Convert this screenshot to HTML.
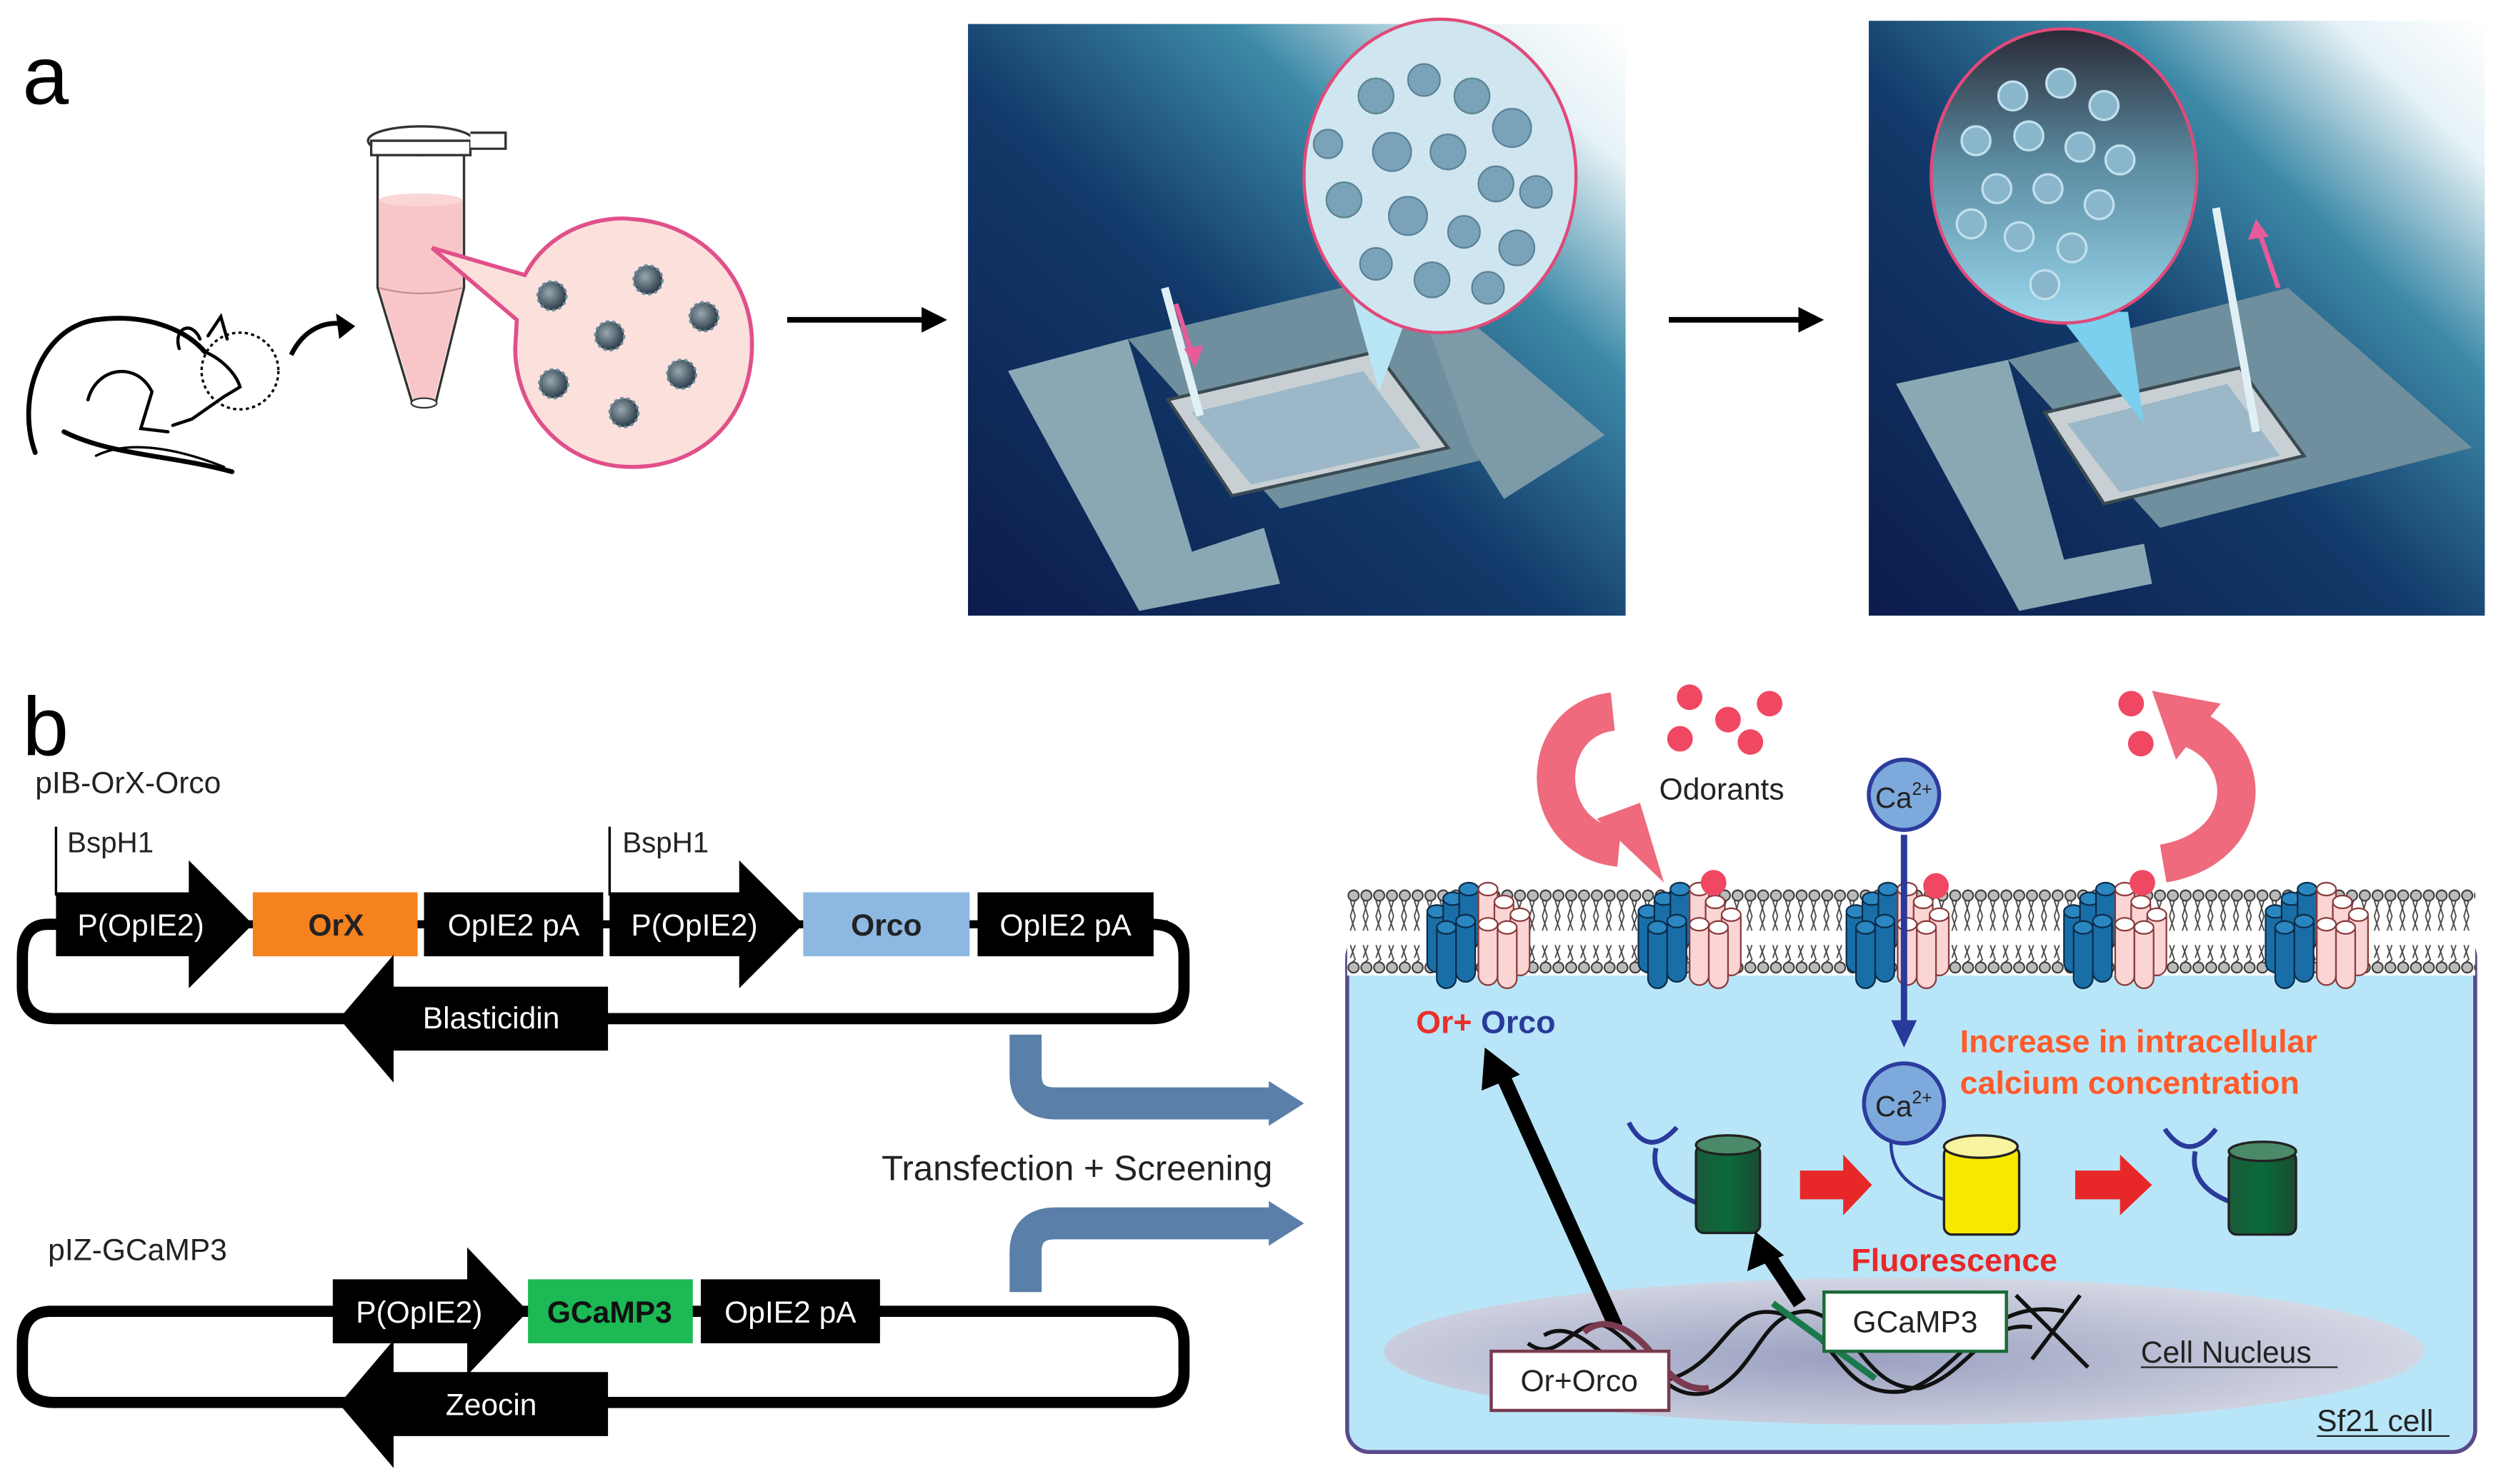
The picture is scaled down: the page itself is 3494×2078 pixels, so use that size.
<!DOCTYPE html>
<html><head><meta charset="utf-8"><style>
html,body{margin:0;padding:0;background:#fff}
svg{display:block}
text{font-family:"Liberation Sans",sans-serif}
</style></head><body>
<svg width="3494" height="2078" viewBox="0 0 1560 928" preserveAspectRatio="none" xmlns="http://www.w3.org/2000/svg">
<defs>
<linearGradient id="bg" x1="0" y1="1" x2="1" y2="0">
<stop offset="0" stop-color="#0c1c4c"/><stop offset="0.45" stop-color="#123a6a"/><stop offset="0.7" stop-color="#3d8aa8"/><stop offset="0.88" stop-color="#e6f2f6"/><stop offset="1" stop-color="#ffffff"/></linearGradient>
<radialGradient id="cell" cx="0.4" cy="0.4" r="0.6"><stop offset="0" stop-color="#9aa8b0"/><stop offset="1" stop-color="#2c3e4a"/></radialGradient>
<radialGradient id="nuc" cx="0.45" cy="0.55" r="0.6"><stop offset="0" stop-color="#9aa0c0"/><stop offset="1" stop-color="#d8dbe6"/></radialGradient>
<linearGradient id="bub2" x1="0" y1="0" x2="0" y2="1"><stop offset="0" stop-color="#2a2a36"/><stop offset="0.45" stop-color="#5a8aa0"/><stop offset="1" stop-color="#9ad8ee"/></linearGradient>
<linearGradient id="grn" x1="0" y1="0" x2="1" y2="0"><stop offset="0" stop-color="#1a5a3a"/><stop offset="0.5" stop-color="#0a6a3a"/><stop offset="1" stop-color="#1a4a30"/></linearGradient>
<pattern id="lip" x="842" y="555" width="8" height="55" patternUnits="userSpaceOnUse">
<path d="M2,8 L5,18 L2,27 M5,8 L2,18 L5,27 M2,36 L5,45 L2,48 M5,36 L2,44" stroke="#444" stroke-width="0.8" fill="none"/>
<circle cx="4" cy="5" r="3.3" fill="#bbb" stroke="#333" stroke-width="0.9"/>
<circle cx="4" cy="50" r="3.3" fill="#bbb" stroke="#333" stroke-width="0.9"/>
</pattern>
<g id="cb"><rect x="-6" y="0" width="12" height="42" rx="6" fill="#1a6ea8" stroke="#0c2c48" stroke-width="1"/><ellipse cx="0" cy="4" rx="6" ry="4" fill="#2a86c0" stroke="#0c2c48" stroke-width="1"/></g>
<g id="cp"><rect x="-6" y="0" width="12" height="42" rx="6" fill="#fbd4d4" stroke="#8a3a3a" stroke-width="1"/><ellipse cx="0" cy="4" rx="6" ry="4" fill="#fff" stroke="#8a3a3a" stroke-width="1"/></g>
<g id="clu">
<use href="#cb" x="-26" y="10"/><use href="#cb" x="-16" y="2"/><use href="#cb" x="-6" y="-4"/><use href="#cb" x="-20" y="20"/><use href="#cb" x="-8" y="16"/>
<use href="#cp" x="6" y="-4"/><use href="#cp" x="16" y="4"/><use href="#cp" x="26" y="12"/><use href="#cp" x="6" y="18"/><use href="#cp" x="18" y="20"/>
</g>
<g id="cl"><circle r="9" fill="url(#cell)"/><circle r="9" fill="none" stroke="#6a8a9a" stroke-width="1.5" stroke-dasharray="2 2"/></g>
</defs>

<!-- panel a -->
<text x="14" y="65" font-size="52">a</text>
<g fill="none" stroke="#000" stroke-width="3" stroke-linecap="round">
<path d="M22,283 C10,250 25,205 60,200 C90,196 115,205 128,220"/>
<path d="M40,270 C70,285 110,285 145,295"/>
<path d="M60,285 C80,275 110,280 140,292" stroke-width="1.5"/>
<path d="M55,250 C60,230 85,225 95,245 L88,268 L105,270" stroke-width="2"/>
<path d="M112,218 C108,205 120,200 125,212 M130,210 L138,198 L142,212" stroke-width="2"/>
<path d="M128,220 C140,225 148,235 150,242 L140,248 L120,262 L108,266" stroke-width="2"/>
</g>
<circle cx="150" cy="232" r="24" fill="none" stroke="#000" stroke-width="1.5" stroke-dasharray="2 2"/>
<path d="M182,222 C190,205 205,200 216,203" fill="none" stroke="#000" stroke-width="3"/>
<polygon points="222,204 210,196 212,212" fill="#000"/>
<path d="M236,93 L236,180 L258,253 L272,253 L290,180 L290,93 Z" fill="#fff" stroke="#333" stroke-width="1.5"/>
<path d="M237,125 L289,125 L289,180 L271,252 L259,252 L237,180 Z" fill="#f8c6c8"/>
<ellipse cx="263" cy="125" rx="26" ry="4" fill="#fbd6d6"/>
<path d="M237,180 Q263,187 289,180" fill="none" stroke="#c09090" stroke-width="1"/>
<ellipse cx="263" cy="88" rx="33" ry="9" fill="#fff" stroke="#333" stroke-width="1.5"/>
<rect x="232" y="88" width="62" height="9" fill="#fff" stroke="#333" stroke-width="1.5"/>
<path d="M294,83 L316,83 L316,93 L294,93" fill="#fff" stroke="#333" stroke-width="1.5"/>
<ellipse cx="265" cy="252" rx="8" ry="3" fill="#fff" stroke="#333"/>
<path d="M270,155 L328,172 C345,140 380,135 395,137 C440,140 470,175 470,215 C470,260 440,292 395,292 C350,292 322,255 322,218 L323,200 Z" fill="#fbe0dc" stroke="#e0508a" stroke-width="2.5"/>
<use href="#cl" x="405" y="175"/><use href="#cl" x="345" y="185"/><use href="#cl" x="381" y="210"/><use href="#cl" x="440" y="198"/><use href="#cl" x="346" y="240"/><use href="#cl" x="426" y="234"/><use href="#cl" x="390" y="258"/>
<line x1="492" y1="200" x2="578" y2="200" stroke="#000" stroke-width="3.5"/><polygon points="592,200 576,192 576,208" fill="#000"/>
<line x1="1043" y1="200" x2="1126" y2="200" stroke="#000" stroke-width="3.5"/><polygon points="1140,200 1124,192 1124,208" fill="#000"/>

<!-- photo 1 -->
<rect x="605" y="15" width="411" height="370" fill="url(#bg)"/>
<polygon points="630,232 705,212 745,345 790,330 800,365 712,382" fill="#8aa8b4"/>
<polygon points="705,212 880,170 1000,270 800,318" fill="#6f8f9e"/>
<polygon points="880,170 930,210 1003,272 940,312 920,280" fill="#7d9aa8"/>
<polygon points="730,250 860,220 905,280 770,310" fill="#c8d0d4" stroke="#3a4a50" stroke-width="2"/>
<polygon points="745,258 852,232 888,280 782,303" fill="#9cb8c8"/>
<path d="M728,180 L750,260" stroke="#e0f0f4" stroke-width="5"/>
<path d="M735,190 L745,222" stroke="#e85a9a" stroke-width="3"/><polygon points="747,230 740,218 752,216" fill="#e85a9a"/>
<path d="M845,185 L862,245 L885,182 Z" fill="#b8e6f4"/>
<ellipse cx="900" cy="110" rx="85" ry="98" fill="#cfe6f0" stroke="#e04a7a" stroke-width="2"/>
<g fill="#7aa2b8" stroke="#5a8296" stroke-width="1">
<circle cx="860" cy="60" r="11"/><circle cx="890" cy="50" r="10"/><circle cx="920" cy="60" r="11"/><circle cx="945" cy="80" r="12"/><circle cx="870" cy="95" r="12"/><circle cx="905" cy="95" r="11"/><circle cx="935" cy="115" r="11"/><circle cx="960" cy="120" r="10"/><circle cx="840" cy="125" r="11"/><circle cx="880" cy="135" r="12"/><circle cx="915" cy="145" r="10"/><circle cx="948" cy="155" r="11"/><circle cx="860" cy="165" r="10"/><circle cx="895" cy="175" r="11"/><circle cx="930" cy="180" r="10"/><circle cx="830" cy="90" r="9"/></g>
<!-- photo 2 -->
<rect x="1168" y="13" width="385" height="372" fill="url(#bg)"/>
<polygon points="1185,240 1255,225 1290,350 1340,340 1345,365 1262,382" fill="#8aa8b4"/>
<polygon points="1255,225 1430,180 1545,280 1350,330" fill="#6f8f9e"/>
<polygon points="1278,258 1400,230 1440,285 1315,315" fill="#c8d0d4" stroke="#3a4a50" stroke-width="2"/>
<polygon points="1292,265 1392,240 1425,285 1325,308" fill="#9cb8c8"/>
<path d="M1385,130 L1410,270" stroke="#e0f0f4" stroke-width="5"/>
<path d="M1424,180 L1412,145" stroke="#e85a9a" stroke-width="3"/><polygon points="1410,137 1405,150 1418,148" fill="#e85a9a"/>
<path d="M1285,195 L1340,265 L1330,195 Z" fill="#7ad0ee"/>
<ellipse cx="1290" cy="110" rx="83" ry="92" fill="url(#bub2)" stroke="#e04a7a" stroke-width="2"/>
<g fill="#8ab6cc" stroke="#c0e0ec" stroke-width="1.5">
<circle cx="1258" cy="60" r="9"/><circle cx="1288" cy="52" r="9"/><circle cx="1315" cy="66" r="9"/><circle cx="1235" cy="88" r="9"/><circle cx="1268" cy="85" r="9"/><circle cx="1300" cy="92" r="9"/><circle cx="1325" cy="100" r="9"/><circle cx="1248" cy="118" r="9"/><circle cx="1280" cy="118" r="9"/><circle cx="1312" cy="128" r="9"/><circle cx="1262" cy="148" r="9"/><circle cx="1295" cy="155" r="9"/><circle cx="1232" cy="140" r="9"/><circle cx="1278" cy="178" r="9"/></g>

<!-- panel b left -->
<text x="14" y="472" font-size="52">b</text>
<text x="22" y="496" font-size="19" fill="#222">pIB-OrX-Orco</text>
<text x="42" y="533" font-size="18" fill="#222">BspH1</text>
<text x="389" y="533" font-size="18" fill="#222">BspH1</text>
<line x1="35" y1="517" x2="35" y2="560" stroke="#000" stroke-width="1.5"/>
<line x1="381" y1="517" x2="381" y2="560" stroke="#000" stroke-width="1.5"/>
<path d="M40,578 L30,578 Q14,578 14,598 L14,617 Q14,637 34,637 L720,637 Q740,637 740,617 L740,598 Q740,578 720,578" fill="none" stroke="#000" stroke-width="7"/>
<line x1="30" y1="578" x2="730" y2="578" stroke="#000" stroke-width="5"/>
<polygon points="35,558 118,558 118,538 158,578 118,618 118,598 35,598" fill="#000"/>
<rect x="158" y="558" width="103" height="40" fill="#f5821f"/>
<rect x="265" y="558" width="112" height="40" fill="#000"/>
<polygon points="381,558 462,558 462,538 502,578 462,618 462,598 381,598" fill="#000"/>
<rect x="502" y="558" width="104" height="40" fill="#8db8e2"/>
<rect x="611" y="558" width="110" height="40" fill="#000"/>
<polygon points="380,617 246,617 246,597 212,637 246,677 246,657 380,657" fill="#000"/>
<path d="M641,647 L641,672 Q641,690 660,690 L795,690" fill="none" stroke="#5a7fa8" stroke-width="20"/>
<polygon points="793,676 815,690 793,704" fill="#5a7fa8"/>
<path d="M641,808 L641,783 Q641,765 660,765 L795,765" fill="none" stroke="#5a7fa8" stroke-width="20"/>
<polygon points="793,751 815,765 793,779" fill="#5a7fa8"/>
<text x="551" y="738" font-size="22" fill="#222">Transfection + Screening</text>
<text x="30" y="788" font-size="19" fill="#222">pIZ-GCaMP3</text>
<path d="M40,820 L32,820 Q14,820 14,840 L14,858 Q14,877 34,877 L720,877 Q740,877 740,858 L740,840 Q740,820 720,820 L30,820" fill="none" stroke="#000" stroke-width="7"/>
<polygon points="208,800 292,800 292,780 330,820 292,860 292,840 208,840" fill="#000"/>
<rect x="330" y="800" width="103" height="40" fill="#1cb955"/>
<rect x="438" y="800" width="112" height="40" fill="#000"/>
<polygon points="380,858 246,858 246,838 212,878 246,918 246,898 380,898" fill="#000"/>
<g font-size="19" fill="#fff" text-anchor="middle">
<text x="88" y="585">P(OpIE2)</text><text x="321" y="585">OpIE2 pA</text><text x="434" y="585">P(OpIE2)</text><text x="666" y="585">OpIE2 pA</text><text x="307" y="643">Blasticidin</text>
<text x="262" y="827">P(OpIE2)</text><text x="494" y="827">OpIE2 pA</text><text x="307" y="885">Zeocin</text></g>
<text x="210" y="585" font-size="19" font-weight="bold" fill="#222" text-anchor="middle">OrX</text>
<text x="554" y="585" font-size="19" font-weight="bold" fill="#222" text-anchor="middle">Orco</text>
<text x="381" y="827" font-size="19" font-weight="bold" fill="#111" text-anchor="middle">GCaMP3</text>

<!-- panel b right -->
<rect x="842" y="585" width="705" height="323" rx="14" fill="#b8e6f8" stroke="#5a4a8c" stroke-width="2.5"/>
<rect x="842" y="555" width="705" height="55" fill="#fff"/>
<rect x="842" y="555" width="705" height="55" fill="url(#lip)"/>
<use href="#clu" x="924" y="556"/><use href="#clu" x="1056" y="556"/><use href="#clu" x="1186" y="556"/><use href="#clu" x="1322" y="556"/><use href="#clu" x="1448" y="556"/>
<path d="M1008,445 C960,450 960,525 1012,530" fill="none" stroke="#ee6a7c" stroke-width="24"/>
<polygon points="998,512 1040,552 1025,502" fill="#ee6a7c"/>
<path d="M1352,540 C1410,530 1410,470 1368,455" fill="none" stroke="#ee6a7c" stroke-width="24"/>
<polygon points="1345,432 1388,440 1360,475" fill="#ee6a7c"/>
<g fill="#f04862"><circle cx="1056" cy="436" r="8"/><circle cx="1080" cy="450" r="8"/><circle cx="1106" cy="440" r="8"/><circle cx="1050" cy="462" r="8"/><circle cx="1094" cy="464" r="8"/><circle cx="1332" cy="440" r="8"/><circle cx="1338" cy="465" r="8"/><circle cx="1071" cy="552" r="8"/><circle cx="1210" cy="554" r="8"/><circle cx="1339" cy="552" r="8"/></g>
<text x="1037" y="500" font-size="19" fill="#222">Odorants</text>
<line x1="1190" y1="522" x2="1190" y2="640" stroke="#2a3a9a" stroke-width="4"/>
<polygon points="1182,638 1198,638 1190,655" fill="#2a3a9a"/>
<circle cx="1190" cy="497" r="22" fill="#7ea9dc" stroke="#2c3c9c" stroke-width="2.5"/>
<text x="1172" y="505" font-size="18" fill="#222">Ca<tspan font-size="11" dy="-8">2+</tspan></text>
<text x="885" y="646" font-size="20" font-weight="bold" fill="#e8302a">Or+ <tspan fill="#2a3a9a">Orco</tspan></text>
<text x="1225" y="658" font-size="20" font-weight="bold" fill="#ff5a2a">Increase in intracellular</text>
<text x="1225" y="684" font-size="20" font-weight="bold" fill="#ff5a2a">calcium concentration</text>
<path d="M1018,702 Q1030,725 1048,705 M1035,718 Q1030,740 1060,752" fill="none" stroke="#2a3a9a" stroke-width="3"/>
<path d="M1353,706 Q1368,728 1385,706 M1372,720 Q1368,742 1395,752" fill="none" stroke="#2a3a9a" stroke-width="3"/>
<path d="M1182,712 Q1180,740 1215,750" fill="none" stroke="#2a3a9a" stroke-width="2"/>
<rect x="1060" y="716" width="40" height="55" rx="5" fill="url(#grn)" stroke="#222" stroke-width="1.5"/><ellipse cx="1080" cy="716" rx="20" ry="6" fill="#4a8a68" stroke="#222" stroke-width="1.5"/>
<rect x="1215" y="717" width="47" height="55" rx="5" fill="#f6e800" stroke="#222" stroke-width="1.5"/><ellipse cx="1238" cy="717" rx="23" ry="7" fill="#f8f4a0" stroke="#222" stroke-width="1.5"/>
<rect x="1393" y="720" width="42" height="52" rx="5" fill="url(#grn)" stroke="#222" stroke-width="1.5"/><ellipse cx="1414" cy="720" rx="21" ry="6" fill="#4a8a68" stroke="#222" stroke-width="1.5"/>
<circle cx="1190" cy="690" r="25" fill="#7ea9dc" stroke="#2c3c9c" stroke-width="2.5"/>
<text x="1172" y="698" font-size="18" fill="#222">Ca<tspan font-size="11" dy="-8">2+</tspan></text>
<polygon points="1125,732 1152,732 1152,722 1170,741 1152,760 1152,750 1125,750" fill="#e82828"/>
<polygon points="1297,732 1325,732 1325,722 1345,741 1325,760 1325,750 1297,750" fill="#e82828"/>
<text x="1157" y="795" font-size="20" font-weight="bold" fill="#e82828">Fluorescence</text>
<ellipse cx="1190" cy="845" rx="325" ry="46" fill="url(#nuc)"/>
<line x1="1010" y1="830" x2="938" y2="670" stroke="#000" stroke-width="9"/>
<polygon points="928,655 926,682 950,672" fill="#000"/>
<line x1="1125" y1="815" x2="1105" y2="785" stroke="#000" stroke-width="9"/>
<polygon points="1097,770 1092,795 1115,785" fill="#000"/>
<g fill="none" stroke="#111" stroke-width="2.5">
<path d="M955,840 C975,855 985,820 1005,830 C1030,845 1040,880 1070,870 C1100,855 1100,820 1130,820 C1160,825 1165,870 1200,868 C1230,860 1240,825 1270,830"/>
<path d="M965,835 C990,820 1010,870 1045,862 C1080,850 1080,812 1115,822 C1150,835 1150,875 1190,870 C1225,860 1240,810 1290,820"/>
<path d="M1260,810 L1305,855 M1300,810 L1270,850"/></g>
<path d="M990,833 C1005,820 1025,835 1035,850 C1045,862 1055,870 1068,868" fill="none" stroke="#7a3a50" stroke-width="4"/>
<line x1="1108" y1="815" x2="1172" y2="862" stroke="#1a7a4a" stroke-width="4"/>
<rect x="1140" y="808" width="114" height="37" fill="#fff" stroke="#1a6a3a" stroke-width="2"/>
<text x="1197" y="833" font-size="19" fill="#222" text-anchor="middle">GCaMP3</text>
<rect x="932" y="845" width="111" height="37" fill="#fff" stroke="#7a3a50" stroke-width="2"/>
<text x="987" y="870" font-size="19" fill="#222" text-anchor="middle">Or+Orco</text>
<text x="1338" y="852" font-size="19" fill="#222">Cell Nucleus</text>
<line x1="1338" y1="855" x2="1461" y2="855" stroke="#222" stroke-width="1"/>
<text x="1448" y="895" font-size="19" fill="#222">Sf21 cell</text>
<line x1="1448" y1="898" x2="1531" y2="898" stroke="#222" stroke-width="1"/>
</svg>
</body></html>
